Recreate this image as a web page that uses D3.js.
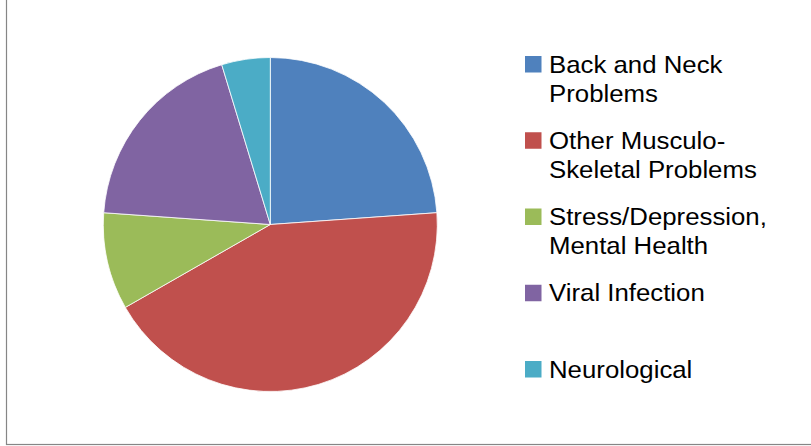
<!DOCTYPE html>
<html>
<head>
<meta charset="utf-8">
<script src="https://cdn.jsdelivr.net/npm/d3@7"></script>
<style>
  body { margin: 0; background: #fff; }
  svg { display: block; }
</style>
</head>
<body>
<div id="chart"></div>
<script>
var categories = [
  ["Back and Neck", "Problems"],
  ["Other Musculo-", "Skeletal Problems"],
  ["Stress/Depression,", "Mental Health"],
  ["Viral Infection"],
  ["Neurological"]
];
var values = [23.9, 42.9, 9.4, 19.2, 4.7];
var colors = ["#4F81BD", "#C0504D", "#9BBB59", "#8064A2", "#4BACC6"];

var width = 811;
var height = 446;
var radius = 167;

var svg = d3.select("#chart")
  .append("svg")
  .attr("width", width)
  .attr("height", height);

// frame (only left and bottom edges fall inside the picture)
svg.append("rect")
  .attr("x", 6.5)
  .attr("y", -10)
  .attr("width", 900)
  .attr("height", 454.5)
  .attr("fill", "none")
  .attr("stroke", "#868686")
  .attr("stroke-width", 1.2);

var pie = d3.pie().sort(null).value(function(d) { return d; });
var arc = d3.arc().innerRadius(0).outerRadius(radius);

var g = svg.append("g")
  .attr("transform", "translate(270.3,224.5)");

g.selectAll("path")
  .data(pie(values))
  .enter()
  .append("path")
  .attr("d", arc)
  .attr("fill", function(d, i) { return colors[i]; })
  .attr("stroke", "#fff")
  .attr("stroke-width", 0.8);

// legend
var legendY = d3.scaleLinear().domain([0, 4]).range([72.5, 377.5]);

var items = svg.selectAll(".legend")
  .data(categories)
  .enter()
  .append("g")
  .attr("class", "legend")
  .attr("transform", function(d, i) { return "translate(0," + legendY(i) + ")"; });

items.append("rect")
  .attr("x", 525)
  .attr("y", -16.5)
  .attr("width", 16.5)
  .attr("height", 16.5)
  .attr("fill", function(d, i) { return colors[i]; });

// the reference font runs a bit wider than Arial, so stretch it slightly
items.append("text")
  .attr("transform", "translate(549,0) scale(1.075,1)")
  .style("font-family", "'Liberation Sans', Arial, sans-serif")
  .style("font-size", "24px")
  .style("fill", "#000")
  .selectAll("tspan")
  .data(function(d) { return d; })
  .enter()
  .append("tspan")
  .attr("x", 0)
  .attr("dy", function(d, i) { return i === 0 ? 0 : 29.5; })
  .text(function(d) { return d; });
</script>
</body>
</html>
